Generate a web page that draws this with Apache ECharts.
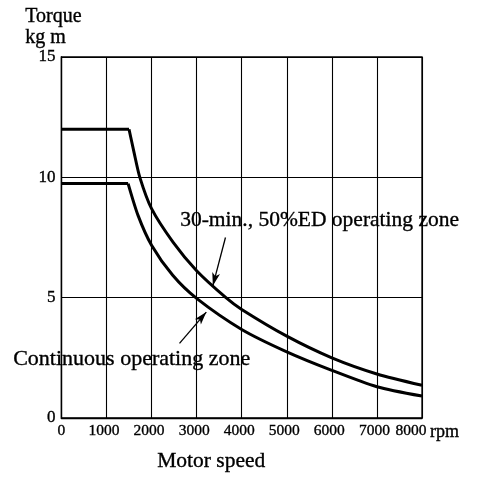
<!DOCTYPE html>
<html>
<head>
<meta charset="utf-8">
<script src="https://cdn.jsdelivr.net/npm/echarts@6/dist/echarts.min.js"></script>
<style>
  html, body { margin: 0; padding: 0; background: #fff; }
  #chart { width: 483px; height: 478px; }
</style>
</head>
<body>
<div id="chart"></div>
<script>
// Motor torque limits versus speed
const xTicks = [0, 1000, 2000, 3000, 4000, 5000, 6000, 7000, 8000];
const yTicks = [0, 5, 10, 15];
const speedUnit = 'rpm';

// 30-min., 50%ED operating zone
const shortFlatSpeed = [0, 1500];
const shortFlatTorque = [12, 12];
const shortSpeed = [1500, 1610, 1740, 2000, 2480, 3000, 3650, 4000, 5000, 6000, 7000, 8000];
const shortTorque = [12, 11.05, 10, 8.7, 7.3, 6.12, 5.0, 4.51, 3.4, 2.5, 1.83, 1.36];

// Continuous operating zone
const contFlatSpeed = [0, 1480];
const contFlatTorque = [9.74, 9.74];
const contSpeed = [1480, 1700, 2000, 2470, 3000, 4000, 5000, 6000, 7000, 8000];
const contTorque = [9.74, 8.42, 7.18, 5.93, 4.97, 3.68, 2.75, 1.98, 1.30, 0.91];

// Leader arrows: [speed, torque] of tail and head
const shortArrow = [[3640, 7.5], [3360, 5.5]];
const contArrow = [[2620, 3.1], [3215, 4.4]];

const zip = (xs, ys) => xs.map((x, i) => [x, ys[i]]);
const SERIF = '"Liberation Serif", "Times New Roman", serif';
const INK = '#000';
const X_FONT = 15.5;
const inkText = (size) => ({
  fontFamily: SERIF, fontSize: size, color: INK,
  textBorderColor: INK, textBorderWidth: 0.35
});

const curveStyle = { color: INK, width: 3 };
const lastTick = xTicks[xTicks.length - 1];

function arrowLine(pts) {
  return {
    silent: true,
    symbol: ['none', 'arrow'],
    symbolSize: [6, 13],
    label: { show: false },
    lineStyle: { color: INK, width: 1.3, type: 'solid' },
    data: [[{ coord: pts[0] }, { coord: pts[1] }]]
  };
}

function caption(text, left, top, size) {
  return {
    type: 'text', left: left, top: top,
    style: { text: text, font: size + 'px ' + SERIF, fill: INK, stroke: INK, lineWidth: 0.35 }
  };
}

const captions = [
  caption('Torque', 25, 7, 20),
  caption('kg m', 25, 28, 20),
  caption('Motor speed', 157, 450, 21.5),
  caption('30-min., 50%ED operating zone', 180, 209, 21.5),
  caption('Continuous operating zone', 13, 348, 22)
];

const chart = echarts.init(document.getElementById('chart'), null, { renderer: 'canvas' });
chart.setOption({
  backgroundColor: '#fff',
  animation: false,
  grid: {
    left: 61.4, right: 61, top: 57, bottom: 60,
    show: true, borderColor: INK, borderWidth: 1.3, backgroundColor: 'transparent'
  },
  xAxis: {
    type: 'value',
    min: xTicks[0], max: lastTick, interval: 1000,
    axisLine: { show: true, lineStyle: { color: INK, width: 1.3 } },
    axisTick: { show: false },
    splitLine: { show: true, lineStyle: { color: INK, width: 1.1 } },
    axisLabel: Object.assign(inkText(X_FONT), {
      margin: 5, interval: 0,
      // the end tick is written together with its unit further below
      formatter: v => {
        if (v === lastTick) return '';
        if (v === 0) return '{zero|0}';
        return '{n|' + v + '}';
      },
      rich: {
        zero: inkText(X_FONT),
        n: Object.assign(inkText(X_FONT), { padding: [0, 5, 0, 0] })
      }
    })
  },
  yAxis: {
    type: 'value',
    min: yTicks[0], max: yTicks[yTicks.length - 1], interval: 5,
    axisLine: { show: true, lineStyle: { color: INK, width: 1.3 } },
    axisTick: { show: false },
    splitLine: { show: true, lineStyle: { color: INK, width: 1.1 } },
    axisLabel: Object.assign(inkText(17), { margin: 6, showMinLabel: true, showMaxLabel: true })
  },
  series: [
    { type: 'line', data: zip(shortFlatSpeed, shortFlatTorque), showSymbol: false,
      lineStyle: curveStyle, z: 5 },
    { type: 'line', data: zip(shortSpeed, shortTorque), showSymbol: false,
      smooth: 0.25, lineStyle: curveStyle, z: 5,
      markLine: arrowLine(shortArrow) },
    { type: 'line', data: zip(contFlatSpeed, contFlatTorque), showSymbol: false,
      lineStyle: curveStyle, z: 5 },
    { type: 'line', data: zip(contSpeed, contTorque), showSymbol: false,
      smooth: 0.25, lineStyle: curveStyle, z: 5,
      markLine: arrowLine(contArrow) }
  ],
  graphic: captions
});

// End tick label with the speed unit, placed from the axis scale
const endPos = chart.convertToPixel({ xAxisIndex: 0, yAxisIndex: 0 }, [lastTick, 0]);
chart.setOption({
  graphic: captions.concat([
    {
      type: 'text', x: endPos[0] - 11, y: endPos[1] + 5,
      style: {
        text: String(lastTick), font: X_FONT + 'px ' + SERIF, fill: INK, stroke: INK, lineWidth: 0.35,
        textAlign: 'center', textVerticalAlign: 'top'
      }
    },
    {
      type: 'text', x: endPos[0] + 8, y: endPos[1] + 5,
      style: {
        text: speedUnit, font: '18px ' + SERIF, fill: INK, stroke: INK, lineWidth: 0.35,
        textAlign: 'left', textVerticalAlign: 'top'
      }
    }
  ])
}, { replaceMerge: ['graphic'] });
</script>
</body>
</html>
